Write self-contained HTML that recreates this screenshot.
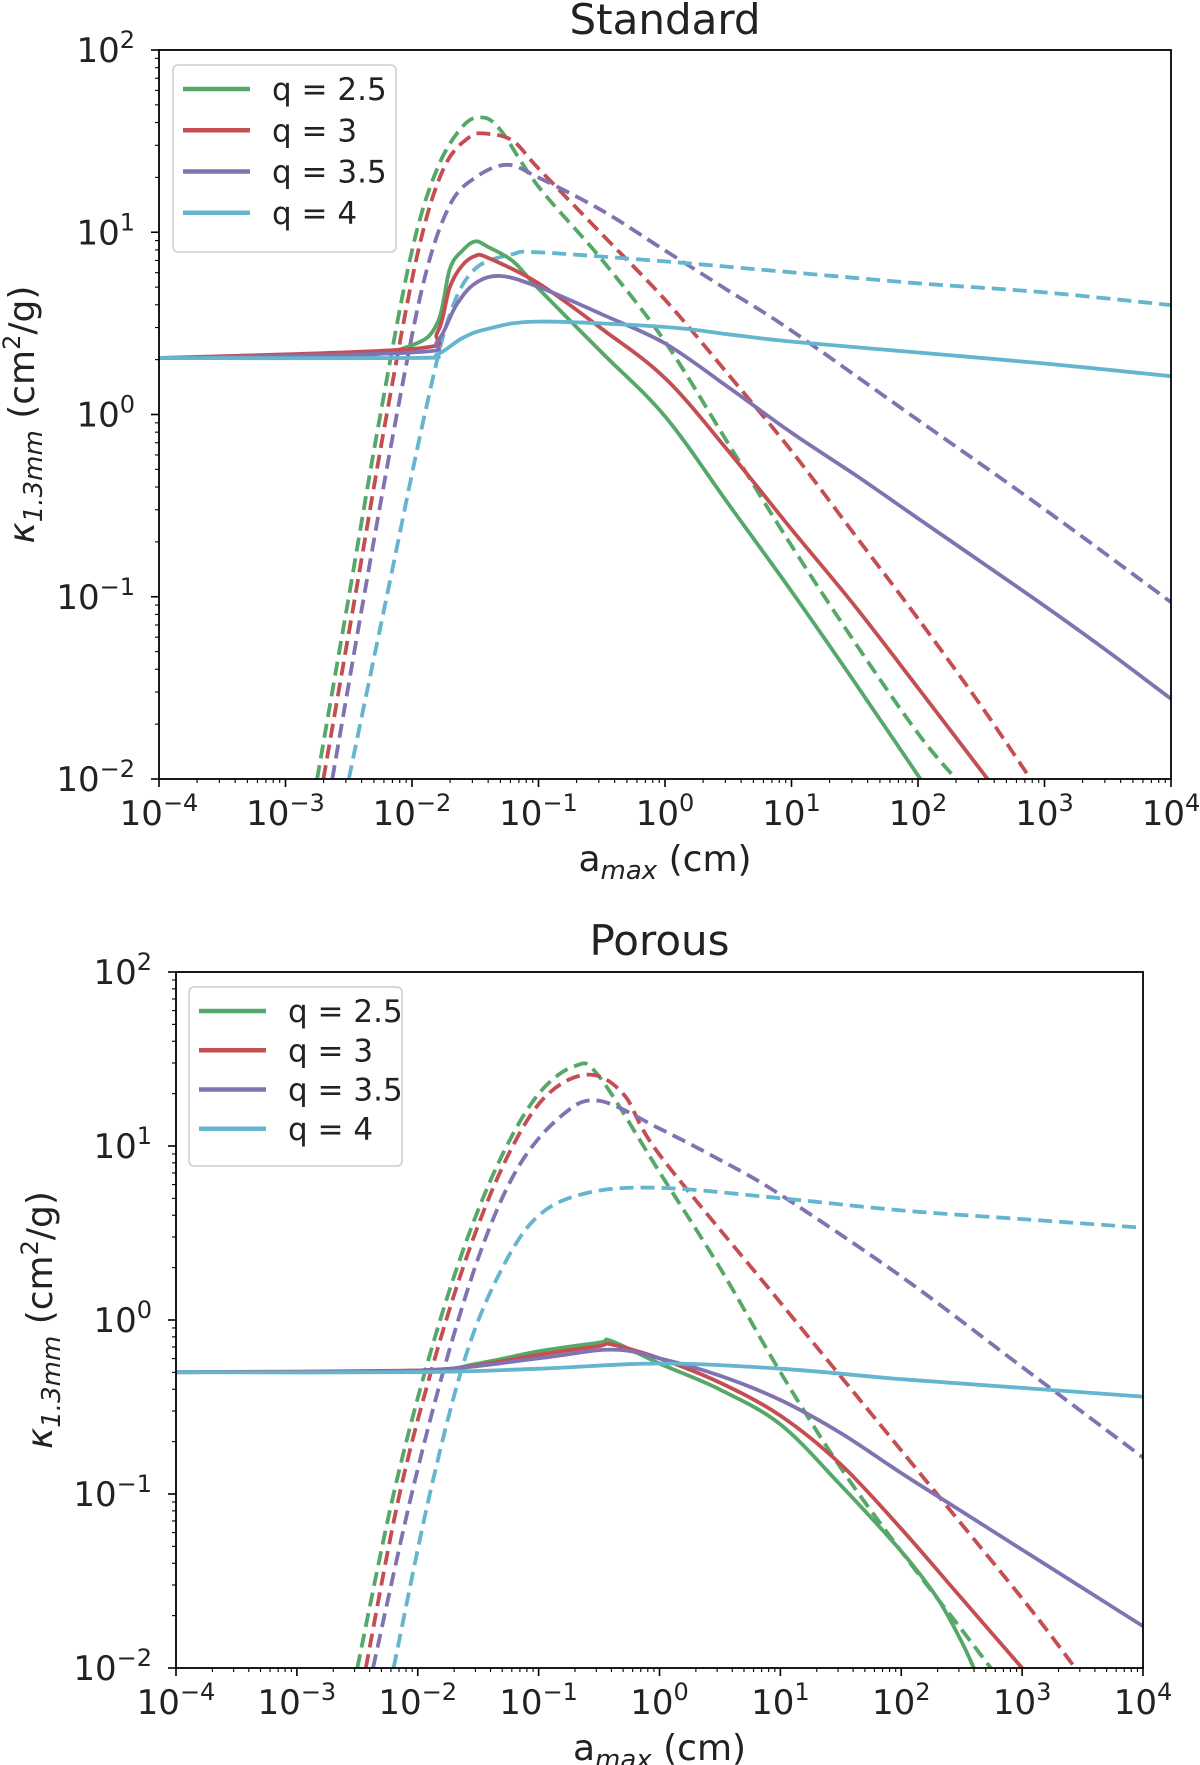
<!DOCTYPE html>
<html><head><meta charset="utf-8"><style>
body{margin:0;background:#fff;}
svg{display:block;font-family:"DejaVu Sans","Liberation Sans",sans-serif;}
</style></head><body>
<svg id="fig" width="1200" height="1765" viewBox="0 0 1200 1765"></svg>
<script>
const seriesNames=["q = 2.5","q = 3","q = 3.5","q = 4"];
const seriesColors=["#55a868","#c44e52","#8172b2","#64b5cd"];
const xTickExps=[-4,-3,-2,-1,0,1,2,3,4];
const yTickExps=[-2,-1,0,1,2];
// Standard panel — log10(amax) and log10(kappa)
const stdSolidX=[
 [-4,-2.5,-2,-1.8,-1.7,-1.6,-1.5,-1.4,-1.2,-1,-0.5,0,0.5,1,1.5,2,2.02],
 [-4,-2,-1.8,-1.7,-1.6,-1.5,-1.4,-1,-0.5,0,0.5,1,1.5,2,2.55],
 [-4,-2,-1.8,-1.65,-1.5,-1.3,-1,-0.5,0,0.5,1,1.5,2,2.5,3,3.5,4],
 [-4,-2,-1.8,-1.6,-1.4,-1,0,0.5,1,2,3,4]];
const stdSolidY=[
 [0.31,0.32,0.38,0.5,0.8,0.9,0.95,0.92,0.84,0.69,0.34,-0.01,-0.49,-0.97,-1.47,-1.98,-2],
 [0.31,0.36,0.45,0.7,0.82,0.87,0.86,0.72,0.47,0.2,-0.2,-0.63,-1.05,-1.5,-2],
 [0.31,0.34,0.4,0.6,0.72,0.76,0.7,0.55,0.39,0.15,-0.1,-0.33,-0.57,-0.81,-1.05,-1.3,-1.56],
 [0.31,0.31,0.33,0.42,0.47,0.51,0.48,0.44,0.4,0.34,0.28,0.21]];
const stdDashX=[
 [-2.75,-2.5,-2.25,-2,-1.8,-1.6,-1.45,-1.3,-1,-0.5,0,0.5,1,1.5,2,2.3],
 [-2.7,-2.45,-2.2,-1.95,-1.75,-1.55,-1.4,-1.2,-1,-0.5,0,0.5,1,1.5,2,2.5,2.89],
 [-2.63,-2.38,-2.12,-1.9,-1.7,-1.5,-1.25,-1,-0.5,0,0.5,1,2,3,4],
 [-2.5,-2.2,-1.9,-1.7,-1.5,-1.2,-1,0,1,2,3,4]];
const stdDashY=[
 [-2,-1,0,0.9,1.35,1.58,1.63,1.56,1.25,0.85,0.4,-0.16,-0.72,-1.25,-1.75,-2],
 [-2,-1,0,0.9,1.35,1.52,1.54,1.5,1.35,0.99,0.63,0.22,-0.2,-0.66,-1.12,-1.6,-2],
 [-2,-1,0,0.75,1.15,1.3,1.37,1.3,1.12,0.9,0.68,0.46,-0.03,-0.52,-1.03],
 [-2,-1,0,0.55,0.8,0.88,0.89,0.84,0.78,0.72,0.67,0.6]];
// Porous panel
const porSolidX=[
 [-4,-2,-1.5,-1,-0.5,-0.4,0,0.5,1,1.5,2,2.3,2.5,2.6],
 [-4,-2,-1.5,-1,-0.5,-0.4,0,0.5,1,1.5,2,2.5,3],
 [-4,-2,-1,-0.4,0,0.5,1,1.5,2,2.5,3,3.5,4],
 [-4,-2,-1,0,1,2,3,4]];
const porSolidY=[
 [-0.3,-0.29,-0.25,-0.18,-0.13,-0.12,-0.25,-0.4,-0.6,-0.95,-1.33,-1.6,-1.85,-2],
 [-0.3,-0.29,-0.26,-0.2,-0.15,-0.14,-0.22,-0.36,-0.55,-0.83,-1.2,-1.6,-2],
 [-0.3,-0.29,-0.22,-0.17,-0.22,-0.32,-0.46,-0.65,-0.88,-1.1,-1.32,-1.54,-1.76],
 [-0.3,-0.3,-0.28,-0.25,-0.28,-0.34,-0.39,-0.44]];
const porDashX=[
 [-2.5,-2.2,-1.9,-1.6,-1.3,-1,-0.7,-0.5,0,0.5,1,1.5,2,2.5,2.74],
 [-2.43,-2.15,-1.85,-1.55,-1.25,-0.95,-0.6,-0.3,0,1,2,3,3.44],
 [-2.37,-2.05,-1.75,-1.45,-1.15,-0.8,-0.5,0,0.5,1,2,3,4],
 [-2.2,-1.9,-1.6,-1.3,-1,-0.6,0,1,2,3,4]];
const porDashY=[
 [-2,-1,-0.2,0.45,0.95,1.3,1.46,1.4,0.85,0.3,-0.3,-0.85,-1.33,-1.78,-2],
 [-2,-1,-0.2,0.45,0.95,1.28,1.41,1.3,0.95,0.1,-0.75,-1.6,-2],
 [-2,-1,-0.2,0.45,0.9,1.18,1.26,1.1,0.92,0.72,0.25,-0.27,-0.79],
 [-2,-1,-0.2,0.3,0.6,0.73,0.76,0.7,0.63,0.58,0.53]];

const NS="http://www.w3.org/2000/svg";
const fig=document.getElementById('fig');
function mk(tag,attrs,parent){const e=document.createElementNS(NS,tag);for(const k in attrs)e.setAttribute(k,attrs[k]);(parent||fig).appendChild(e);return e;}
function smooth(pts){
  let d='M'+pts[0][0].toFixed(1)+','+pts[0][1].toFixed(1);
  for(let i=0;i<pts.length-1;i++){
    const p0=pts[Math.max(0,i-1)],p1=pts[i],p2=pts[i+1],p3=pts[Math.min(pts.length-1,i+2)];
    const c1=[p1[0]+(p2[0]-p0[0])/6,p1[1]+(p2[1]-p0[1])/6];
    const c2=[p2[0]-(p3[0]-p1[0])/6,p2[1]-(p3[1]-p1[1])/6];
    d+=' C'+c1[0].toFixed(1)+','+c1[1].toFixed(1)+' '+c2[0].toFixed(1)+','+c2[1].toFixed(1)+' '+p2[0].toFixed(1)+','+p2[1].toFixed(1);
  }
  return d;
}
function panel(cfg){
  const g=mk('g',{});
  
  
  const {L,R,T,B}=cfg;
  const xs=v=>L+(v+4)/8*(R-L);
  const ys=v=>T+(2-v)/4*(B-T);
  const t=mk('text',{x:(L+R)/2,y:cfg.titleY,'text-anchor':'middle','font-size':42,fill:'#222'},g);
  t.textContent=cfg.title;
  
  
  const clip=mk('clipPath',{id:'c'+cfg.name},g);
  mk('rect',{x:L,y:T,width:R-L,height:B-T},clip);
  const sg=mk('g',{'clip-path':'url(#c'+cfg.name+')'},g);
  const draw=(X,Y,dash,kind)=>{
    for(let i=0;i<X.length;i++){
      const pts=X[i].map((x,j)=>[xs(x),ys(Y[i][j])]);
      const p=mk('path',{d:smooth(pts),fill:'none',stroke:seriesColors[i],'stroke-width':3.8,'stroke-linejoin':'round'},sg);
      if(dash)p.setAttribute('stroke-dasharray','14,7');
      
      
    }
  };
  draw(cfg.dX,cfg.dY,true,'dashed');
  draw(cfg.sX,cfg.sY,false,'solid');
  const fr=mk('rect',{x:L,y:T,width:R-L,height:B-T,fill:'none',stroke:'#000','stroke-width':1.8},g);
  
  
  for(const e of xTickExps){
    const px=xs(e);
    mk('line',{x1:px,x2:px,y1:B,y2:B+8,stroke:'#000','stroke-width':1.6},g);
    if(e<4)for(let m=2;m<10;m++){const q=xs(e+Math.log10(m));mk('line',{x1:q,x2:q,y1:B,y2:B+4,stroke:'#000','stroke-width':1.1},g);}
    const tx=mk('text',{x:px,y:B+46,'text-anchor':'middle','font-size':34,fill:'#222'},g);
    
    
    tx.appendChild(document.createTextNode('10'));
    const s=mk('tspan',{dy:-14,'font-size':24},tx);s.textContent=String(e).replace('-','\u2212');
  }
  for(const e of yTickExps){
    const py=ys(e);
    mk('line',{x1:L-8,x2:L,y1:py,y2:py,stroke:'#000','stroke-width':1.6},g);
    if(e<2)for(let m=2;m<10;m++){const q=ys(e+Math.log10(m));mk('line',{x1:L-4,x2:L,y1:q,y2:q,stroke:'#000','stroke-width':1.1},g);}
    const ty=mk('text',{x:L-24,y:py+12,'text-anchor':'end','font-size':34,fill:'#222'},g);
    
    
    ty.appendChild(document.createTextNode('10'));
    const s=mk('tspan',{dy:-14,'font-size':24},ty);s.textContent=String(e).replace('-','\u2212');
  }
  const xl=mk('text',{x:(L+R)/2,y:B+92,'text-anchor':'middle','font-size':36,fill:'#222'},g);
  
  
  xl.appendChild(document.createTextNode('a'));
  const s1=mk('tspan',{dy:8,'font-size':26,'font-style':'italic'},xl);s1.textContent='max';
  const s2=mk('tspan',{dy:-8},xl);s2.textContent=' (cm)';
  const cy=(T+B)/2;
  const yl=mk('text',{x:0,y:0,transform:'translate('+(cfg.ylX)+','+cy+') rotate(-90)','text-anchor':'middle','font-size':36,fill:'#222'},g);
  
  
  const k=mk('tspan',{'font-style':'italic'},yl);k.textContent='\u03BA';
  const k2=mk('tspan',{dy:8,'font-size':26,'font-style':'italic'},yl);k2.textContent='1.3mm';
  const k3=mk('tspan',{dy:-8},yl);k3.textContent=' (cm';
  const k4=mk('tspan',{dy:-14,'font-size':24},yl);k4.textContent='2';
  const k5=mk('tspan',{dy:14},yl);k5.textContent='/g)';
  const lg=mk('g',{},g);
  
  
  const [lx,ly,lw,lh]=cfg.leg;
  mk('rect',{x:lx,y:ly,width:lw,height:lh,rx:5,fill:'#fff','fill-opacity':0.85,stroke:'#ccc','stroke-width':1.5},lg);
  const step=(lh-22)/4;
  for(let i=0;i<4;i++){
    const yy=ly+24+step*i;
    const en=mk('g',{},lg);
    
    
    mk('line',{x1:lx+10,x2:lx+77,y1:yy,y2:yy,stroke:seriesColors[i],'stroke-width':4.5},en);
    const tt=mk('text',{x:lx+99,y:yy+11,'font-size':31,fill:'#222'},en);tt.textContent=seriesNames[i];
  }
}
panel({name:'standard-panel',title:'Standard',L:159,R:1171,T:50,B:779,titleY:34,ylX:34,leg:[173,65,223,187],sX:stdSolidX,sY:stdSolidY,dX:stdDashX,dY:stdDashY});
panel({name:'porous-panel',title:'Porous',L:176,R:1143,T:972,B:1668,titleY:955,ylX:52,leg:[189,987,213,179],sX:porSolidX,sY:porSolidY,dX:porDashX,dY:porDashY});
</script>
</body></html>
